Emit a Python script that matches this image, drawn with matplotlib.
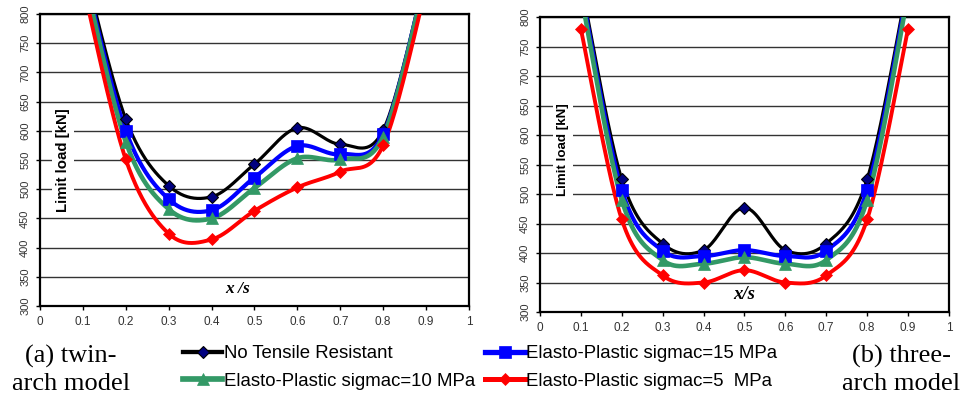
import numpy as np
import matplotlib
matplotlib.use("Agg")
import matplotlib.pyplot as plt
from matplotlib.lines import Line2D

plt.rcParams['font.family'] = ['Liberation Sans', 'DejaVu Sans']

# ---- data ----
x_vals = [0.1, 0.2, 0.3, 0.4, 0.5, 0.6, 0.7, 0.8, 0.9]

# (a) twin-arch model
black_a = [890, 620, 506, 487, 543, 605, 577, 601, 870]
blue_a = [880, 600, 483, 464, 520, 574, 560, 594, 868]
green_a = [875, 581, 466, 450, 502, 553, 551, 590, 865]
red_a = [850, 551, 424, 414, 463, 503, 530, 575, 845]

# (b) three-arch model
black_b = [860, 525, 416, 405, 477, 405, 416, 525, 860]
blue_b = [850, 507, 404, 395, 405, 395, 404, 507, 850]
green_b = [840, 490, 388, 382, 393, 382, 388, 490, 840]
red_b = [780, 457, 362, 350, 371, 350, 362, 457, 780]

labels = ["No Tensile Resistant", "Elasto-Plastic sigmac=15 MPa",
          "Elasto-Plastic sigmac=10 MPa", "Elasto-Plastic sigmac=5  MPa"]
x_ticks = [0, 0.1, 0.2, 0.3, 0.4, 0.5, 0.6, 0.7, 0.8, 0.9, 1]
x_ticklabels = ["0", "0.1", "0.2", "0.3", "0.4", "0.5", "0.6", "0.7", "0.8", "0.9", "1"]
y_ticks = [300, 350, 400, 450, 500, 550, 600, 650, 700, 750, 800]

styles = [
    dict(color='#000000', lw=2.3, marker='D', ms=6.5, mfc='#000080', mec='#000000', mew=0.8),
    dict(color='#0000FF', lw=3.0, marker='s', ms=9, mfc='#0000FF', mec='#0000FF', mew=0.5),
    dict(color='#339966', lw=3.3, marker='^', ms=9, mfc='#339966', mec='#339966', mew=0.5),
    dict(color='#FF0000', lw=2.8, marker='D', ms=6.5, mfc='#FF0000', mec='#FF0000', mew=0.5),
]


def smooth(xs, ys, n=40):
    P = np.column_stack([xs, ys]).astype(float)
    out = []
    for i in range(len(P) - 1):
        p0 = P[i - 1] if i > 0 else P[i]
        p1 = P[i]
        p2 = P[i + 1]
        p3 = P[i + 2] if i + 2 < len(P) else P[i + 1]
        c1 = p1 + (p2 - p0) / 6.0
        c2 = p2 - (p3 - p1) / 6.0
        t = np.linspace(0, 1, n)[:, None]
        B = ((1 - t) ** 3) * p1 + 3 * ((1 - t) ** 2) * t * c1 + 3 * (1 - t) * t ** 2 * c2 + t ** 3 * p2
        out.append(B if i == 0 else B[1:])
    B = np.vstack(out)
    return B[:, 0], B[:, 1]


fig = plt.figure(figsize=(9.63, 3.98), dpi=100)
ax_a = fig.add_axes([0.0415, 0.231, 0.4455, 0.734])
ax_b = fig.add_axes([0.5607, 0.216, 0.4247, 0.741])


def draw(ax, series, xlabel, xl_size, ylab_pos, ylab_size):
    for ys, st in zip(series, styles):
        sx, sy = smooth(x_vals, ys)
        ax.plot(sx, sy, color=st['color'], lw=st['lw'], solid_capstyle='round', zorder=3)
        ax.plot(x_vals, ys, ls='none', marker=st['marker'], ms=st['ms'], mfc=st['mfc'],
                mec=st['mec'], mew=st['mew'], zorder=4)
    ax.set_xlim(0, 1)
    ax.set_ylim(300, 800)
    ax.set_xticks(x_ticks)
    ax.set_xticklabels(x_ticklabels)
    ax.set_yticks(y_ticks)
    ax.yaxis.grid(True, color='#333333', lw=1.0)
    ax.set_axisbelow(True)
    for sp in ax.spines.values():
        sp.set_linewidth(1.6)
        sp.set_color('black')
    ax.tick_params(axis='x', length=3, width=1, pad=4, labelsize=8.5, labelcolor='#333333')
    ax.tick_params(axis='y', length=3, width=1, pad=4, labelsize=8, labelcolor='#333333')
    for lab in ax.get_yticklabels():
        lab.set_rotation(90)
        lab.set_va('center')
    ax.text(ylab_pos[0], ylab_pos[1], "Limit load [kN]", transform=ax.transAxes, rotation=90,
            ha='center', va='center', fontsize=ylab_size, fontweight='bold', zorder=5,
            bbox=dict(facecolor='white', edgecolor='none', pad=3))
    ax.text(0.46 if xlabel == "x /s" else 0.5, 330, xlabel, ha='center', va='center',
            fontsize=xl_size, fontweight='bold', fontstyle='italic',
            family=['Liberation Serif', 'DejaVu Serif'], zorder=5)


draw(ax_a, [black_a, blue_a, green_a, red_a], "x /s", 12.5, (0.054, 0.5), 10.8)
draw(ax_b, [black_b, blue_b, green_b, red_b], "x/s", 13.5, (0.056, 0.55), 9.6)

handles = []
for st in styles:
    handles.append(Line2D([], [], color=st['color'], lw=st['lw'] + 0.8, marker=st['marker'],
                          ms=st['ms'], mfc=st['mfc'], mec=st['mec'], mew=st['mew']))
order = [0, 2, 1, 3]
fig.legend([handles[i] for i in order], [labels[i] for i in order], ncol=2,
           loc='upper left', bbox_to_anchor=(183 / 963, 1 - 345 / 398), frameon=False,
           fontsize=13.4, handlelength=2.1, handletextpad=0.1, columnspacing=0.55,
           labelspacing=0.58, borderpad=0, borderaxespad=0, numpoints=1)

fig.text(71 / 963, 1 - 370 / 398, "(a) twin-\narch model", ha='center', va='center',
         multialignment='center', fontsize=19, linespacing=1.3,
         family=['Liberation Serif', 'DejaVu Serif'])
fig.text(901 / 963, 1 - 370 / 398, "(b) three-\narch model", ha='center', va='center',
         multialignment='center', fontsize=19, linespacing=1.3,
         family=['Liberation Serif', 'DejaVu Serif'])

fig.savefig("out.png", dpi=100)
